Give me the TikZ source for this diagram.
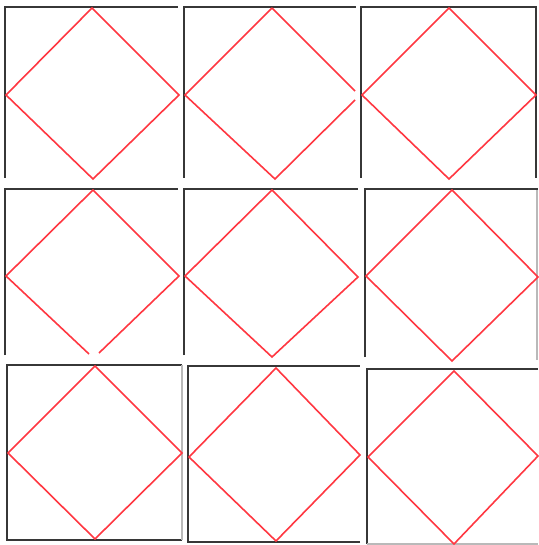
\documentclass[tikz,border=0pt]{standalone}
\usepackage{xcolor}
\usepackage{tikz}
\definecolor{framegray}{RGB}{55,55,55}
\definecolor{paleedge}{RGB}{185,185,185}
\definecolor{diamondred}{RGB}{255,55,65}
\tikzset{
  frameline/.style={draw=framegray, line width=2.5pt},
  thinframe/.style={draw=paleedge, line width=1.2pt},
  diamondline/.style={draw=diamondred, line width=1.6pt, line join=miter}
}
\begin{document}
\begin{tikzpicture}[x=1pt,y=-1pt]
  \useasboundingbox (0,0) rectangle (538,545);
  \fill[white] (0,0) rectangle (538,545);

  % Row 1
  \draw[frameline] (5,178) -- (5,7) -- (178,7);
  \draw[diamondline] (92,8) -- (179,95) -- (93,179) -- (6,95) -- cycle;

  \draw[frameline] (184,178) -- (184,7) -- (356,7);
  \draw[diamondline] (272,8) -- (355,91) (355,100) -- (275,179) -- (185,95) -- (272,8);

  \draw[frameline] (361,178) -- (361,7) -- (536,7) -- (536,178);
  \draw[diamondline] (449,8) -- (536,95) -- (449,179) -- (362,95) -- cycle;

  % Row 2
  \draw[frameline] (5,355) -- (5,189) -- (178,189);
  \draw[diamondline] (89,354) -- (6,276) -- (93,190) -- (179,276) -- (99,353);

  \draw[frameline] (184,355) -- (184,189) -- (358,189);
  \draw[diamondline] (272,190) -- (358,277) -- (272,357) -- (185,276) -- cycle;

  \draw[frameline] (365,357) -- (365,189) -- (538,189);
  \draw[thinframe] (537,190) -- (537,360);
  \draw[diamondline] (452,190) -- (538,277) -- (452,361) -- (366,276) -- cycle;

  % Row 3
  \draw[frameline] (182,540) -- (7,540) -- (7,365) -- (182,365);
  \draw[thinframe] (182,365) -- (182,540);
  \draw[diamondline] (95,366) -- (182,453) -- (95,539) -- (8,453) -- cycle;

  \draw[frameline] (360,542) -- (188,542) -- (188,366) -- (360,366);
  \draw[diamondline] (276,368) -- (360,455) -- (276,541) -- (189,457) -- cycle;

  \draw[frameline] (367,544) -- (367,369) -- (538,369);
  \draw[thinframe] (367,544) -- (538,544);
  \draw[diamondline] (454,371) -- (538,456) -- (454,544) -- (368,457) -- cycle;
\end{tikzpicture}
\end{document}
